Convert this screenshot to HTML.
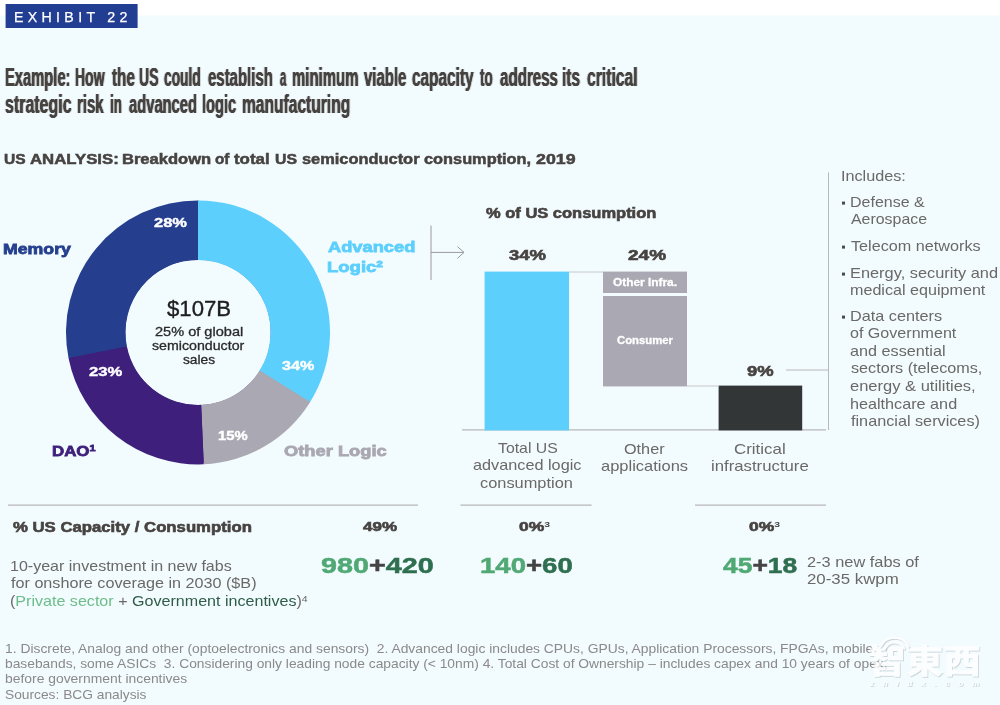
<!DOCTYPE html>
<html lang="en">
<head>
<meta charset="utf-8">
<title>Exhibit 22</title>
<style>
html,body{margin:0;padding:0;background:#ffffff;}
body{width:1000px;height:705px;overflow:hidden;font-family:"Liberation Sans","Noto Sans CJK TC",sans-serif;}
svg{display:block;}
svg text{font-family:"Liberation Sans","Noto Sans CJK TC",sans-serif;}
</style>
</head>
<body>
<svg width="1000" height="705" viewBox="0 0 1000 705">
<!-- backgrounds, donut, bars, rules -->
<g id="shapes">
<defs><filter id="hb" x="-2%" y="-30%" width="104%" height="160%" color-interpolation-filters="sRGB"><feConvolveMatrix in="SourceAlpha" order="3 1" kernelMatrix="0.3 1 0.3" divisor="1" preserveAlpha="false" edgeMode="none" result="c"/><feFlood flood-color="#474341"/><feComposite operator="in" in2="c"/></filter></defs>
<rect x="0" y="15.5" width="1000" height="689.5" fill="#f2fbfe"/>
<rect x="5.6" y="4" width="132" height="24" fill="#223e92"/>
<circle cx="198" cy="332.4" r="101.75" fill="none" stroke="#3e1f7b" stroke-width="58.0"/>
<path d="M68.56 358.26A132 132 0 0 1 198.69 200.40L198.38 259.90A72.5 72.5 0 0 0 126.91 346.61Z" fill="#253f8e"/>
<path d="M198.00 200.40A132 132 0 0 1 309.70 402.74L259.35 371.03A72.5 72.5 0 0 0 198.00 259.90Z" fill="#5dcffd"/>
<path d="M310.19 401.96A132 132 0 0 1 203.76 464.27L201.16 404.83A72.5 72.5 0 0 0 259.62 370.60Z" fill="#aaa8b2"/>
<path d="M203.76 464.27A132 132 0 0 1 68.56 358.26L126.91 346.61A72.5 72.5 0 0 0 201.16 404.83Z" fill="#3e1f7b"/>
<path d="M431 225.6V280M431 252.4H464M457.4 246.6L464 252.4L457.4 258.4" fill="none" stroke="#9a9a9a" stroke-width="1"/>
<path d="M462 429.8H826" fill="none" stroke="#b8b8b8" stroke-width="1.2"/>
<rect x="484.6" y="271.6" width="84.4" height="158.8" fill="#5dcffd"/>
<rect x="603" y="271.6" width="84" height="21.4" fill="#aaa8b2"/>
<rect x="603" y="296" width="84" height="90.4" fill="#aaa8b2"/>
<rect x="718.6" y="385.6" width="83.6" height="44.8" fill="#323637"/>
<path d="M569 272H603M687 386H719" fill="none" stroke="#c8c8c8" stroke-width="1"/>
<path d="M828.5 172.4V430M786 370H828.5" fill="none" stroke="#b8b8b8" stroke-width="1"/>
<rect x="842" y="201.6" width="3" height="3" fill="#4a4a4a"/>
<rect x="842" y="245.6" width="3" height="3" fill="#4a4a4a"/>
<rect x="842" y="272.6" width="3" height="3" fill="#4a4a4a"/>
<rect x="842" y="315.6" width="3" height="3" fill="#4a4a4a"/>
<path d="M8 505.2H418M460.4 505.2H591.6M695 505.2H826" fill="none" stroke="#b8b8b8" stroke-width="1.2"/>
<defs><filter id="ws" x="-10%" y="-20%" width="120%" height="150%"><feDropShadow dx="0.9" dy="1" stdDeviation="0.7" flood-color="#7f8c96" flood-opacity="0.45"/></filter></defs>
</g>
<!-- all labels are live text, width-fitted with textLength -->
<g id="labels">
<text x="14.00" y="22.2" font-size="14.2" fill="#ffffff" stroke="#ffffff" stroke-width="0.25" letter-spacing="4.311">EXHIBIT 22</text>
<text y="86" font-size="25.4" font-weight="bold" fill="#474341" filter="url(#hb)"><tspan x="5" textLength="65.49" lengthAdjust="spacingAndGlyphs">Example:</tspan> <tspan x="75" textLength="29.55" lengthAdjust="spacingAndGlyphs">How</tspan> <tspan x="112" textLength="22.87" lengthAdjust="spacingAndGlyphs">the</tspan> <tspan x="139" textLength="19.50" lengthAdjust="spacingAndGlyphs">US</tspan> <tspan x="164" textLength="36.70" lengthAdjust="spacingAndGlyphs">could</tspan> <tspan x="208" textLength="64.84" lengthAdjust="spacingAndGlyphs">establish</tspan> <tspan x="280" textLength="6.26" lengthAdjust="spacingAndGlyphs">a</tspan> <tspan x="292" textLength="66.49" lengthAdjust="spacingAndGlyphs">minimum</tspan> <tspan x="364" textLength="42.39" lengthAdjust="spacingAndGlyphs">viable</tspan> <tspan x="412" textLength="61.58" lengthAdjust="spacingAndGlyphs">capacity</tspan> <tspan x="480" textLength="12.74" lengthAdjust="spacingAndGlyphs">to</tspan> <tspan x="500" textLength="58.03" lengthAdjust="spacingAndGlyphs">address</tspan> <tspan x="562" textLength="18.04" lengthAdjust="spacingAndGlyphs">its</tspan> <tspan x="587" textLength="50.61" lengthAdjust="spacingAndGlyphs">critical</tspan></text>
<text y="113" font-size="25.4" font-weight="bold" fill="#474341" filter="url(#hb)"><tspan x="5" textLength="66.56" lengthAdjust="spacingAndGlyphs">strategic</tspan> <tspan x="77" textLength="26.72" lengthAdjust="spacingAndGlyphs">risk</tspan> <tspan x="110" textLength="11.88" lengthAdjust="spacingAndGlyphs">in</tspan> <tspan x="129" textLength="68.04" lengthAdjust="spacingAndGlyphs">advanced</tspan> <tspan x="202" textLength="34.30" lengthAdjust="spacingAndGlyphs">logic</tspan> <tspan x="242" textLength="108.24" lengthAdjust="spacingAndGlyphs">manufacturing</tspan></text>
<text y="163.8" font-size="14.7" font-weight="bold" fill="#474341" stroke="#474341" stroke-width="0.5"><tspan x="4" textLength="21.64" lengthAdjust="spacingAndGlyphs">US</tspan> <tspan x="30" textLength="88.73" lengthAdjust="spacingAndGlyphs">ANALYSIS:</tspan> <tspan x="122" textLength="89.12" lengthAdjust="spacingAndGlyphs">Breakdown</tspan> <tspan x="215" textLength="14.47" lengthAdjust="spacingAndGlyphs">of</tspan> <tspan x="234" textLength="35.63" lengthAdjust="spacingAndGlyphs">total</tspan> <tspan x="275" textLength="22.04" lengthAdjust="spacingAndGlyphs">US</tspan> <tspan x="302" textLength="117.52" lengthAdjust="spacingAndGlyphs">semiconductor</tspan> <tspan x="424" textLength="107.12" lengthAdjust="spacingAndGlyphs">consumption,</tspan> <tspan x="536" textLength="39.63" lengthAdjust="spacingAndGlyphs">2019</tspan></text>
<text x="154.00" y="227.4" font-size="13" font-weight="bold" fill="#fff" stroke="#fff" stroke-width="0.4" textLength="33.04" lengthAdjust="spacingAndGlyphs">28%</text>
<text x="89.00" y="376" font-size="13" font-weight="bold" fill="#fff" stroke="#fff" stroke-width="0.4" textLength="33.25" lengthAdjust="spacingAndGlyphs">23%</text>
<text x="282.00" y="370.4" font-size="13" font-weight="bold" fill="#fff" stroke="#fff" stroke-width="0.4" textLength="32.25" lengthAdjust="spacingAndGlyphs">34%</text>
<text x="218.00" y="440" font-size="13" font-weight="bold" fill="#fff" stroke="#fff" stroke-width="0.4" textLength="29.65" lengthAdjust="spacingAndGlyphs">15%</text>
<text x="3.00" y="253.8" font-size="15.2" font-weight="bold" fill="#253f8e" stroke="#253f8e" stroke-width="0.8" textLength="67.93" lengthAdjust="spacingAndGlyphs">Memory</text>
<text x="328.00" y="251.8" font-size="15.2" font-weight="bold" fill="#5dcffd" stroke="#5dcffd" stroke-width="0.8" textLength="87.32" lengthAdjust="spacingAndGlyphs">Advanced</text>
<text x="327.00" y="272.2" font-size="15.2" font-weight="bold" fill="#5dcffd" stroke="#5dcffd" stroke-width="0.8" textLength="55.96" lengthAdjust="spacingAndGlyphs">Logic<tspan font-size="9.8" dy="-5.3">2</tspan></text>
<text x="52.00" y="455.8" font-size="15.2" font-weight="bold" fill="#3e1f7b" stroke="#3e1f7b" stroke-width="0.8" textLength="43.53" lengthAdjust="spacingAndGlyphs">DAO<tspan font-size="9.8" dy="-5.3">1</tspan></text>
<text x="284.00" y="455.8" font-size="15.2" font-weight="bold" fill="#aaa8b2" stroke="#aaa8b2" stroke-width="0.8" textLength="102.69" lengthAdjust="spacingAndGlyphs">Other Logic</text>
<text x="167.00" y="316.4" font-size="21.8" fill="#1e1e1e" stroke="#1e1e1e" stroke-width="0.35" textLength="64.05" lengthAdjust="spacingAndGlyphs">$107B</text>
<text x="155.00" y="335.6" font-size="12.8" fill="#2a2a2a" stroke="#2a2a2a" stroke-width="0.3" textLength="88.24" lengthAdjust="spacingAndGlyphs">25% of global</text>
<text x="152.00" y="350" font-size="12.8" fill="#2a2a2a" stroke="#2a2a2a" stroke-width="0.3" textLength="92.24" lengthAdjust="spacingAndGlyphs">semiconductor</text>
<text x="183.00" y="364" font-size="12.8" fill="#2a2a2a" stroke="#2a2a2a" stroke-width="0.3" textLength="32.08" lengthAdjust="spacingAndGlyphs">sales</text>
<text x="486.00" y="217.6" font-size="14.5" font-weight="bold" fill="#474341" stroke="#474341" stroke-width="0.6" textLength="170.36" lengthAdjust="spacingAndGlyphs">% of US consumption</text>
<text x="509.00" y="260" font-size="15" font-weight="bold" fill="#474341" stroke="#474341" stroke-width="0.6" textLength="37.04" lengthAdjust="spacingAndGlyphs">34%</text>
<text x="628.00" y="260" font-size="15" font-weight="bold" fill="#474341" stroke="#474341" stroke-width="0.6" textLength="38.04" lengthAdjust="spacingAndGlyphs">24%</text>
<text x="747.00" y="376.4" font-size="15" font-weight="bold" fill="#474341" stroke="#474341" stroke-width="0.6" textLength="26.62" lengthAdjust="spacingAndGlyphs">9%</text>
<text x="613.00" y="286.4" font-size="10.4" font-weight="bold" fill="#fff" stroke="#fff" stroke-width="0.3" textLength="64.02" lengthAdjust="spacingAndGlyphs">Other Infra.</text>
<text x="617.00" y="344" font-size="10.4" font-weight="bold" fill="#fff" stroke="#fff" stroke-width="0.3" textLength="55.94" lengthAdjust="spacingAndGlyphs">Consumer</text>
<text x="498.00" y="452.6" font-size="14.6" fill="#6b6967" textLength="59.78" lengthAdjust="spacingAndGlyphs">Total US</text>
<text x="473.00" y="470" font-size="14.6" fill="#6b6967" textLength="108.43" lengthAdjust="spacingAndGlyphs">advanced logic</text>
<text x="480.00" y="487.6" font-size="14.6" fill="#6b6967" textLength="92.85" lengthAdjust="spacingAndGlyphs">consumption</text>
<text x="624.00" y="453.6" font-size="14.6" fill="#6b6967" textLength="40.56" lengthAdjust="spacingAndGlyphs">Other</text>
<text x="601.00" y="471" font-size="14.6" fill="#6b6967" textLength="87.10" lengthAdjust="spacingAndGlyphs">applications</text>
<text x="734.00" y="453.6" font-size="14.6" fill="#6b6967" textLength="51.65" lengthAdjust="spacingAndGlyphs">Critical</text>
<text x="711.00" y="471" font-size="14.6" fill="#6b6967" textLength="97.75" lengthAdjust="spacingAndGlyphs">infrastructure</text>
<text x="841.00" y="181.4" font-size="14.6" fill="#6b6967" textLength="64.89" lengthAdjust="spacingAndGlyphs">Includes:</text>
<text x="850.00" y="207" font-size="14.6" fill="#6b6967" textLength="74.67" lengthAdjust="spacingAndGlyphs">Defense &amp;</text>
<text x="851.00" y="224" font-size="14.6" fill="#6b6967" textLength="76.05" lengthAdjust="spacingAndGlyphs">Aerospace</text>
<text x="851.00" y="251" font-size="14.6" fill="#6b6967" textLength="129.69" lengthAdjust="spacingAndGlyphs">Telecom networks</text>
<text x="850.00" y="278" font-size="14.6" fill="#6b6967" textLength="147.99" lengthAdjust="spacingAndGlyphs">Energy, security and</text>
<text x="850.00" y="295" font-size="14.6" fill="#6b6967" textLength="135.35" lengthAdjust="spacingAndGlyphs">medical equipment</text>
<text x="850.00" y="321" font-size="14.6" fill="#6b6967" textLength="92.15" lengthAdjust="spacingAndGlyphs">Data centers</text>
<text x="850.00" y="338" font-size="14.6" fill="#6b6967" textLength="106.30" lengthAdjust="spacingAndGlyphs">of Government</text>
<text x="850.00" y="356" font-size="14.6" fill="#6b6967" textLength="95.54" lengthAdjust="spacingAndGlyphs">and essential</text>
<text x="851.00" y="373" font-size="14.6" fill="#6b6967" textLength="131.36" lengthAdjust="spacingAndGlyphs">sectors (telecoms,</text>
<text x="850.00" y="391" font-size="14.6" fill="#6b6967" textLength="125.70" lengthAdjust="spacingAndGlyphs">energy &amp; utilities,</text>
<text x="850.00" y="409" font-size="14.6" fill="#6b6967" textLength="107.14" lengthAdjust="spacingAndGlyphs">healthcare and</text>
<text x="851.00" y="426" font-size="14.6" fill="#6b6967" textLength="128.90" lengthAdjust="spacingAndGlyphs">financial services)</text>
<text x="13.00" y="532" font-size="14.6" font-weight="bold" fill="#474341" stroke="#474341" stroke-width="0.6" textLength="238.85" lengthAdjust="spacingAndGlyphs">% US Capacity / Consumption</text>
<text x="363.00" y="531.4" font-size="13.5" font-weight="bold" fill="#474341" stroke="#474341" stroke-width="0.6" textLength="34.04" lengthAdjust="spacingAndGlyphs">49%</text>
<text x="519.00" y="531.4" font-size="13.5" font-weight="bold" fill="#474341" stroke="#474341" stroke-width="0.6" textLength="30.96" lengthAdjust="spacingAndGlyphs">0%<tspan font-size="8" dy="-4.6" stroke="none">3</tspan></text>
<text x="749.00" y="531.4" font-size="13.5" font-weight="bold" fill="#474341" stroke="#474341" stroke-width="0.6" textLength="30.96" lengthAdjust="spacingAndGlyphs">0%<tspan font-size="8" dy="-4.6" stroke="none">3</tspan></text>
<text x="10.00" y="571" font-size="14.6" fill="#6b6967" textLength="221.68" lengthAdjust="spacingAndGlyphs">10-year investment in new fabs</text>
<text x="11.00" y="588.4" font-size="14.6" fill="#6b6967" textLength="245.54" lengthAdjust="spacingAndGlyphs">for onshore coverage in 2030 ($B)</text>
<text x="10.00" y="606" font-size="14.6" fill="#6b6967" textLength="297.69" lengthAdjust="spacingAndGlyphs">(<tspan fill="#6dbd8a">Private sector</tspan> + <tspan fill="#2f5d48">Government incentives</tspan>)<tspan font-size="9.5" dy="-4.3">4</tspan></text>
<text x="321.00" y="573" font-size="21.5" font-weight="bold" fill="#474341" stroke="#474341" stroke-width="0.5" textLength="112.83" lengthAdjust="spacingAndGlyphs"><tspan fill="#50a974" stroke="#50a974">980</tspan><tspan fill="#444" stroke="#444">+</tspan><tspan fill="#2e6f4f" stroke="#2e6f4f">420</tspan></text>
<text x="480.00" y="573" font-size="21.5" font-weight="bold" fill="#474341" stroke="#474341" stroke-width="0.5" textLength="92.74" lengthAdjust="spacingAndGlyphs"><tspan fill="#50a974" stroke="#50a974">140</tspan><tspan fill="#444" stroke="#444">+</tspan><tspan fill="#2e6f4f" stroke="#2e6f4f">60</tspan></text>
<text x="723.00" y="573" font-size="21.5" font-weight="bold" fill="#474341" stroke="#474341" stroke-width="0.5" textLength="74.31" lengthAdjust="spacingAndGlyphs"><tspan fill="#50a974" stroke="#50a974">45</tspan><tspan fill="#444" stroke="#444">+</tspan><tspan fill="#2e6f4f" stroke="#2e6f4f">18</tspan></text>
<text x="807.00" y="567" font-size="14.6" fill="#6b6967" textLength="111.89" lengthAdjust="spacingAndGlyphs">2-3 new fabs of</text>
<text x="807.00" y="584.4" font-size="14.6" fill="#6b6967" textLength="91.73" lengthAdjust="spacingAndGlyphs">20-35 kwpm</text>
<text x="5.00" y="652.9" font-size="12.8" fill="#8b8989" textLength="868.25" lengthAdjust="spacingAndGlyphs" xml:space="preserve">1. Discrete, Analog and other (optoelectronics and sensors)  2. Advanced logic includes CPUs, GPUs, Application Processors, FPGAs, mobile</text>
<text x="5.00" y="668" font-size="12.8" fill="#8b8989" textLength="882.56" lengthAdjust="spacingAndGlyphs" xml:space="preserve">basebands, some ASICs  3. Considering only leading node capacity (&lt; 10nm) 4. Total Cost of Ownership – includes capex and 10 years of opex,</text>
<text x="5.00" y="683.2" font-size="12.8" fill="#8b8989" textLength="182.17" lengthAdjust="spacingAndGlyphs">before government incentives</text>
<text x="5.00" y="698.5" font-size="12.8" fill="#8b8989" textLength="141.50" lengthAdjust="spacingAndGlyphs">Sources: BCG analysis</text>
<text x="868.00" y="673.2" font-size="32.5" font-weight="900" fill="#ffffff" textLength="112.91" lengthAdjust="spacingAndGlyphs" filter="url(#ws)" opacity="0.74">智東西</text>
<text x="870.00" y="685.8" font-size="8" font-weight="bold" fill="#ffffff" letter-spacing="8.750" font-style="italic" filter="url(#ws)" opacity="0.74">zhidx.com</text>
</g>
<path d="M880.5 646.5A15.5 15.5 0 0 1 908.5 646.5M885 648.5A10.5 10.5 0 0 1 904 648.5" fill="none" stroke="#ffffff" stroke-width="2.3" stroke-linecap="round" filter="url(#ws)" opacity="0.78"/>
</svg>
</body>
</html>
